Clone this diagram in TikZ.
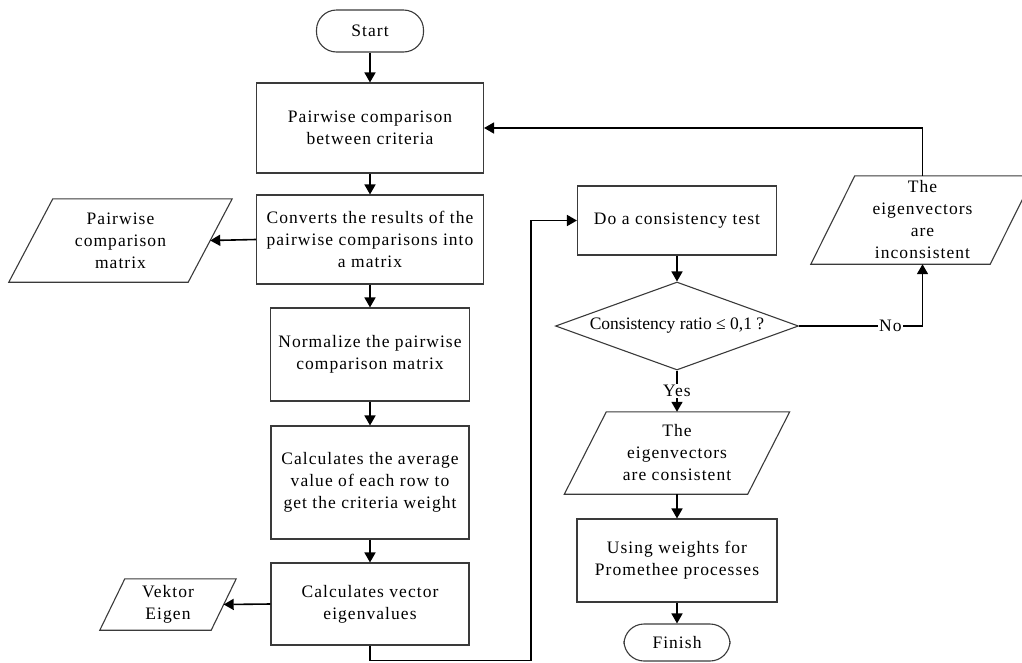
\documentclass[tikz,border=0pt]{standalone}
\usepackage{fontspec}
\setmainfont{Liberation Serif}[LetterSpace=6]
\newfontfamily\plainserif{Liberation Serif}
\usetikzlibrary{shapes.geometric,arrows.meta,calc}
\newcommand{\diagfont}{\fontsize{17.5}{22}\selectfont}
\newcommand{\drawio}[2]{%
  \draw[ioline] ([xshift=#2/2]#1.north west) -- ([xshift=#2/2]#1.north east)
    -- ([xshift=-#2/2]#1.south east) -- ([xshift=-#2/2]#1.south west) -- cycle;}
\definecolor{boxgray}{HTML}{3A3A3A}
\begin{document}
\begin{tikzpicture}[x=1pt,y=-1pt,
  box/.style={draw=boxgray, line width=1.1pt, align=center, inner sep=0pt, font=\diagfont},
  term/.style={box, rounded corners=20pt},
  io/.style={draw=none, align=center, inner sep=0pt, font=\diagfont},
  ioline/.style={draw=boxgray, line width=1.1pt},
  decision/.style={diamond, draw=boxgray, line width=1.1pt, inner sep=0pt},
  arr/.style={line width=1.6pt, -{Triangle[length=10pt,width=11pt]}},
  lbl/.style={fill=white, inner sep=1pt, font=\diagfont}]
\useasboundingbox (0,0) rectangle (1022,662);

% main column
\node[term, minimum width=107pt, minimum height=42pt] (start) at (370,31) {Start};
\node[box, minimum width=227pt, minimum height=90pt] (p1) at (370,128)
  {Pairwise comparison\\between criteria};
\node[box, minimum width=227pt, minimum height=89pt] (conv) at (370,239.5)
  {Converts the results of the\\pairwise comparisons into\\a matrix};
\node[box, minimum width=199pt, minimum height=93pt] (norm) at (370,354.5)
  {Normalize the pairwise\\comparison matrix};
\node[box, minimum width=198pt, minimum height=113pt] (avg) at (370,482.5)
  {Calculates the average\\value of each row to\\get the criteria weight};
\node[box, minimum width=198pt, minimum height=82pt] (vec) at (370,604)
  {Calculates vector\\eigenvalues};

% left outputs
\node[io, minimum width=179pt, minimum height=83pt] (pm) at (120.5,240.5)
  {Pairwise\\comparison\\matrix};
\drawio{pm}{44pt}
\node[io, minimum width=111pt, minimum height=51pt] (ve) at (168,604.5)
  {Vektor\\Eigen};
\drawio{ve}{25pt}

% right column
\node[box, minimum width=199pt, minimum height=69pt] (test) at (677,220.5)
  {Do a consistency test};
\node[decision, minimum width=243pt, minimum height=88pt] (dia) at (677,326) {};
\node[font=\diagfont\plainserif, inner sep=0pt] (diatext) at (677,326)
  {Consistency ratio ≤ 0,1 ?};
\node[io, minimum width=183pt, minimum height=82pt] (cons) at (677,453)
  {The\\eigenvectors\\are consistent};
\drawio{cons}{42pt}
\node[box, minimum width=200pt, minimum height=83pt] (weights) at (677,560.5)
  {Using weights for\\Promethee processes};
\node[term, minimum width=106pt, minimum height=37pt] (finish) at (677,642.5) {Finish};

\node[io, minimum width=179pt, minimum height=88pt] (incons) at (922.5,220)
  {The\\eigenvectors\\are\\inconsistent};
\drawio{incons}{44pt}

\coordinate (loopc) at (531,660.5);

% connectors
\draw[arr] (start) -- (p1);
\draw[arr] (p1) -- (conv);
\draw[arr] (conv) -- (norm);
\draw[arr] (norm) -- (avg);
\draw[arr] (avg) -- (vec);
\draw[arr] (conv.west) -- (pm.east);
\draw[arr] (vec.west) -- (ve.east);
\draw[arr] (vec.south) |- (loopc) |- (test.west);
\draw[arr] (test) -- (dia);
\draw[arr] (dia.south) -- node[lbl] {Yes} (cons.north);
\draw[arr] (cons.south) -- (weights.north);
\draw[arr] (weights) -- (finish);
\draw[arr] (dia.east) -| node[lbl, pos=0.37] {No} (incons.south);
\draw[arr] (incons.north) |- (p1.east);
\end{tikzpicture}
\end{document}
